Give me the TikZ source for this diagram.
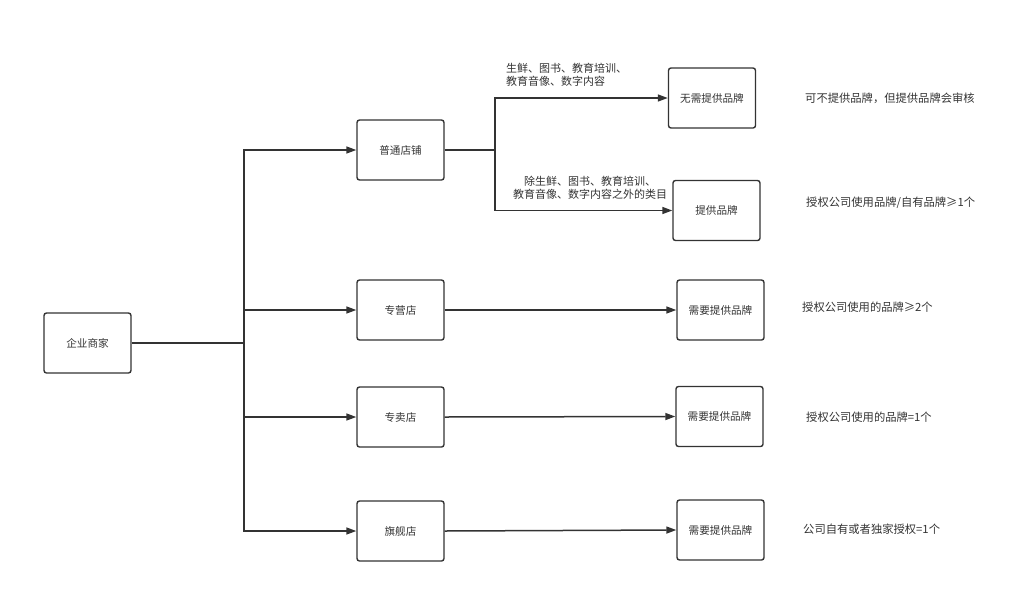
\documentclass[tikz,border=0pt]{standalone}
\usepackage{fontspec}
\setmainfont{Noto Sans CJK SC}
\usetikzlibrary{arrows.meta}
\definecolor{ink}{HTML}{333333}
\begin{document}
\begin{tikzpicture}[x=1pt,y=-1pt,
  box/.style={draw=ink,line width=1.4pt,rounded corners=2.5pt,minimum width=87pt,minimum height=60pt,inner sep=0pt,text=ink,font=\fontsize{10.6}{12}\selectfont},
  lbl/.style={text=ink,font=\fontsize{11}{13.5}\selectfont,inner sep=0pt},
  note/.style={text=ink,font=\fontsize{11.3}{13.5}\selectfont,inner sep=0pt},
  conn/.style={draw=ink,line width=1.5pt},
  arr/.style={conn,-{Triangle[length=10pt,width=7pt]}}]
\useasboundingbox (0,0) rectangle (1028,606);
\node[box] (qy) at (87.5,343) {企业商家};
\node[box] (pt) at (400.5,150) {普通店铺};
\node[box] (zy) at (400.5,310) {专营店};
\node[box] (zm) at (400.5,417) {专卖店};
\node[box] (qj) at (400.5,531) {旗舰店};
\node[box] (wx) at (712,98) {无需提供品牌};
\node[box] (tg) at (716.5,210.5) {提供品牌};
\node[box] (x1) at (720.5,310) {需要提供品牌};
\node[box] (x2) at (719.5,416.5) {需要提供品牌};
\node[box] (x3) at (720.5,530) {需要提供品牌};
\coordinate (bus) at (244,343);
\coordinate (fork) at (495,150);
\draw[conn] (qy.east) -- (bus);
\draw[arr] (bus) |- (pt.west);
\draw[arr] (bus) |- (zy.west);
\draw[arr] (bus) |- (zm.west);
\draw[arr] (bus) |- (qj.west);
\draw[conn] (pt.east) -- (fork);
\draw[arr] (fork) |- (wx.west);
\draw[arr] (fork) |- (tg.west);
\draw[arr] (zy.east) -- (x1.west);
\draw[arr] (zm.east) -- (x2.west);
\draw[arr] (qj.east) -- (x3.west);
\node[lbl,anchor=west,align=left] (l1) at (506,75) {生鲜、图书、教育培训、\\教育音像、数字内容};
\node[lbl,align=center] (l2) at (590,188) {除生鲜、图书、教育培训、\\教育音像、数字内容之外的类目};
\node[note,anchor=west] (r1) at (805,98) {可不提供品牌，但提供品牌会审核};
\node[note,anchor=west] (r2) at (806,203) {授权公司使用品牌/自有品牌≥1个};
\node[note,anchor=west] (r3) at (802,307) {授权公司使用的品牌≥2个};
\node[note,anchor=west] (r4) at (806,417) {授权公司使用的品牌=1个};
\node[note,anchor=west] (r5) at (803,529) {公司自有或者独家授权=1个};
\end{tikzpicture}
\end{document}
